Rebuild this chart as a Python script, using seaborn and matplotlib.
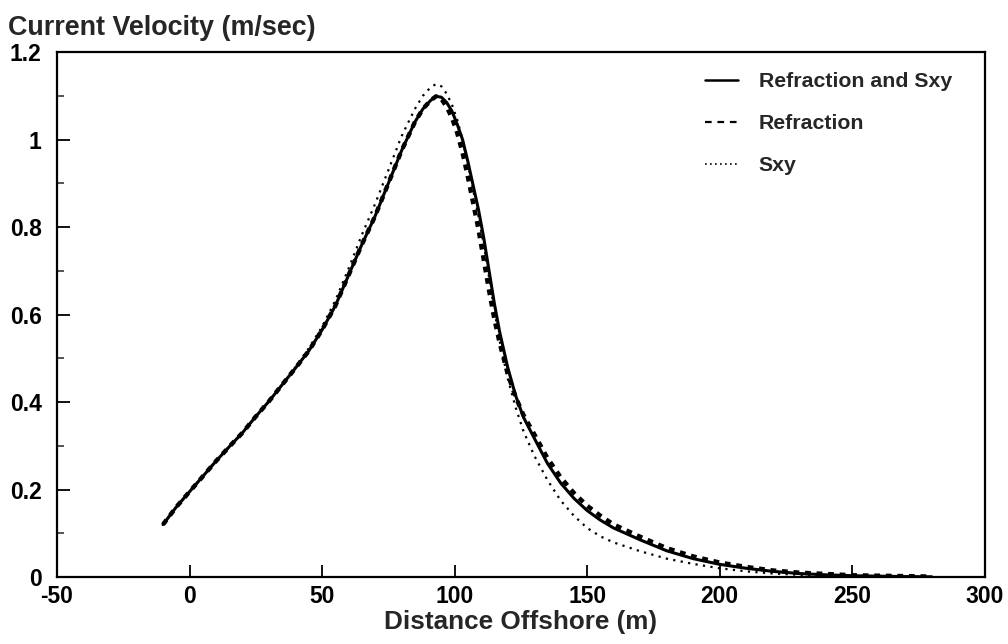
import matplotlib
matplotlib.use("Agg")
import matplotlib.pyplot as plt
from matplotlib.lines import Line2D
from matplotlib.ticker import MultipleLocator
import seaborn as sns
import pandas as pd

# Distance offshore (m) and longshore current velocity (m/s) for the three runs
distance = [-10, -5, 0, 5, 10, 15, 20, 25, 30, 35, 40, 45, 50, 55, 60, 65, 70, 75,
            80, 85, 88, 91, 93, 95, 97, 99, 101, 103, 105, 107, 109, 111, 113, 115,
            117, 120, 123, 126, 130, 135, 140, 145, 150, 155, 160, 170, 180, 190,
            200, 210, 220, 230, 240, 250, 260, 270, 280]

refraction_and_sxy = [0.12, 0.16, 0.195, 0.23, 0.265, 0.298, 0.33, 0.367, 0.402, 0.44,
                      0.478, 0.517, 0.565, 0.62, 0.69, 0.76, 0.825, 0.9, 0.975, 1.04,
                      1.07, 1.09, 1.099, 1.097, 1.085, 1.065, 1.035, 1.0, 0.95, 0.895,
                      0.84, 0.775, 0.7, 0.625, 0.56, 0.48, 0.415, 0.365, 0.318, 0.26,
                      0.215, 0.18, 0.152, 0.13, 0.112, 0.085, 0.06, 0.042, 0.029, 0.02,
                      0.013, 0.008, 0.005, 0.003, 0.002, 0.001, 0.0005]

refraction = [0.12, 0.16, 0.195, 0.23, 0.265, 0.298, 0.33, 0.367, 0.402, 0.44,
              0.478, 0.517, 0.565, 0.62, 0.69, 0.76, 0.825, 0.9, 0.975, 1.04,
              1.07, 1.09, 1.099, 1.093, 1.075, 1.05, 1.015, 0.97, 0.915, 0.855,
              0.795, 0.725, 0.655, 0.59, 0.535, 0.465, 0.412, 0.37, 0.327, 0.272,
              0.228, 0.192, 0.163, 0.14, 0.12, 0.092, 0.066, 0.047, 0.033, 0.023,
              0.015, 0.01, 0.007, 0.004, 0.003, 0.002, 0.001]

sxy = [0.12, 0.16, 0.195, 0.23, 0.265, 0.298, 0.33, 0.367, 0.402, 0.44,
       0.48, 0.523, 0.572, 0.632, 0.705, 0.782, 0.853, 0.93, 1.008, 1.07,
       1.1, 1.12, 1.127, 1.122, 1.105, 1.08, 1.045, 1.0, 0.945, 0.885,
       0.825, 0.76, 0.685, 0.61, 0.54, 0.455, 0.388, 0.333, 0.278, 0.222,
       0.175, 0.14, 0.112, 0.093, 0.079, 0.059, 0.042, 0.03, 0.02, 0.013,
       0.008, 0.005, 0.003, 0.002, 0.001, 0.0005, 0.0]

series_labels = ["Refraction and Sxy", "Refraction", "Sxy"]
x_ticks = [-50, 0, 50, 100, 150, 200, 250, 300]
y_ticks = [0, 0.2, 0.4, 0.6, 0.8, 1.0, 1.2]
y_tick_labels = ["0", "0.2", "0.4", "0.6", "0.8", "1", "1.2"]

df = pd.DataFrame({
    "distance": distance * 3,
    "velocity": refraction_and_sxy + refraction + sxy,
    "run": [series_labels[0]] * len(distance) + [series_labels[1]] * len(distance)
           + [series_labels[2]] * len(distance),
})

sns.set_style("ticks")
plt.rcParams["font.family"] = ["Liberation Sans", "DejaVu Sans"]
plt.rcParams["font.weight"] = "bold"

fig = plt.figure(figsize=(10.08, 6.44), dpi=100)
ax = fig.add_axes([0.0565, 0.104, 0.9205, 0.815])

styles = {
    series_labels[1]: dict(lw=3.2, ls=(0, (1.3, 1.3))),
    series_labels[2]: dict(lw=1.6, ls=(0, (1.0, 2.4))),
    series_labels[0]: dict(lw=2.2, ls="-"),
}
for name in [series_labels[1], series_labels[2], series_labels[0]]:
    sub = df[df["run"] == name]
    sns.lineplot(data=sub, x="distance", y="velocity", ax=ax, color="black",
                 linewidth=styles[name]["lw"], linestyle=styles[name]["ls"],
                 legend=False, estimator=None, sort=False)

ax.set_xlim(-50, 300)
ax.set_ylim(0, 1.2)
ax.set_xticks(x_ticks)
ax.set_xticklabels([str(v) for v in x_ticks])
ax.set_yticks(y_ticks)
ax.set_yticklabels(y_tick_labels)
ax.yaxis.set_minor_locator(MultipleLocator(0.1))
ax.tick_params(axis="both", which="major", direction="in", length=9, width=1.3,
               labelsize=16.5, colors="black")
ax.tick_params(axis="x", which="major", pad=6)
ax.tick_params(axis="y", which="major", pad=11)
ax.tick_params(axis="y", which="minor", direction="in", length=5, width=1.1)
for lab in ax.get_xticklabels() + ax.get_yticklabels():
    lab.set_fontweight("bold")
for sp in ax.spines.values():
    sp.set_visible(True)
    sp.set_linewidth(1.6)
    sp.set_color("black")

ax.set_xlabel("Distance Offshore (m)", fontsize=18.8, fontweight="bold", labelpad=1)
ax.set_ylabel("")
fig.text(0.008, 0.957, "Current Velocity (m/sec)", fontsize=19.4, fontweight="bold",
         ha="left", va="center")

handles = [
    Line2D([], [], color="black", lw=1.8, ls="-"),
    Line2D([], [], color="black", lw=1.6, ls=(0, (3.0, 2.6))),
    Line2D([], [], color="black", lw=1.2, ls=(0, (1.0, 2.0))),
]
leg = ax.legend(handles, series_labels, loc="upper right", frameon=False,
                handlelength=1.55, handletextpad=0.95,
                labelspacing=1.08, bbox_to_anchor=(0.985, 0.998),
                prop={"weight": "bold", "size": 15.3})

fig.savefig("out.png", dpi=100, facecolor="white")
